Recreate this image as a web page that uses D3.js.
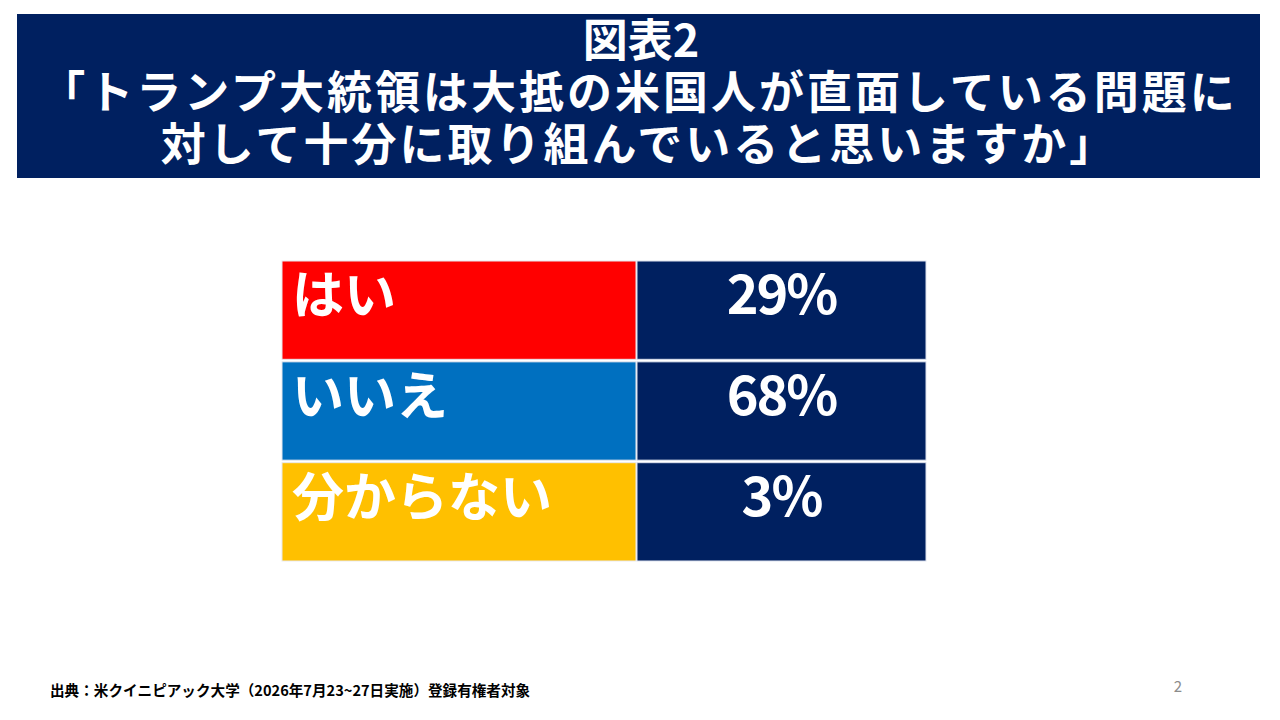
<!DOCTYPE html>
<html>
<head>
<meta charset="utf-8">
<script src="https://cdn.jsdelivr.net/npm/d3@7"></script>
<style>
  body { margin: 0; background: #fff; }
  svg { display: block; }
</style>
</head>
<body>
<div id="chart"></div>
<script>
// data
const titleLines = [
  '図表2',
  '「トランプ大統領は大抵の米国人が直面している問題に',
  '対して十分に取り組んでいると思いますか」'
]
const answers = ['はい', 'いいえ', '分からない']
const shares = [29, 68, 3]
const source = '出典：米クイニピアック大学（2026年7月23~27日実施）登録有権者対象'
const pageNo = '2'

const width = 1280
const height = 720
const navy = '#002060'
const rowColors = ['#ff0000', '#0070c0', '#ffc000']
const font = '"Noto Sans CJK JP", "Noto Sans", sans-serif'

const svg = d3.select('#chart')
  .append('svg')
  .attr('width', width)
  .attr('height', height)

// title box
svg.append('rect')
  .attr('x', 17)
  .attr('y', 14)
  .attr('width', 1243)
  .attr('height', 164)
  .attr('fill', navy)

// one text block, three lines
svg.append('text')
  .attr('text-anchor', 'middle')
  .style('font-family', font)
  .style('font-weight', 'bold')
  .style('font-size', '45px')
  .style('fill', '#fff')
  .selectAll('tspan')
  .data(titleLines)
  .join('tspan')
  .attr('x', (d, i) => i === 0 ? 641 : 639)
  .attr('y', (d, i) => 57 + i * 52)
  .style('letter-spacing', (d, i) => i === 0 ? '0px' : '3px')
  .text(d => d)

// table: rows by band scale, two columns
const y = d3.scaleBand()
  .domain(answers)
  .range([261, 561])
  .paddingInner(0.025)

const x = d3.scaleOrdinal()
  .domain(['label', 'value'])
  .range([282, 637])

const colW = { label: 354, value: 289 }

const rows = svg.append('g')
  .selectAll('g')
  .data(answers.map((a, i) => ({ answer: a, share: shares[i], color: rowColors[i] })))
  .join('g')
  .attr('transform', d => `translate(0,${y(d.answer)})`)

rows.append('rect')
  .attr('x', x('label'))
  .attr('width', colW.label)
  .attr('height', y.bandwidth())
  .attr('fill', d => d.color)
  .attr('stroke', '#e8e8ee')
  .attr('stroke-width', 1)

rows.append('rect')
  .attr('x', x('value'))
  .attr('width', colW.value)
  .attr('height', y.bandwidth())
  .attr('fill', navy)
  .attr('stroke', '#dde2ee')
  .attr('stroke-width', 1)

rows.append('text')
  .attr('x', x('label') + 10)
  .attr('y', 53)
  .style('font-family', font)
  .style('font-weight', 'bold')
  .style('font-size', '52px')
  .style('fill', '#fff')
  .text(d => d.answer)

rows.append('text')
  .attr('x', x('value') + colW.value / 2)
  .attr('y', 53)
  .attr('text-anchor', 'middle')
  .style('font-family', font)
  .style('font-weight', 'bold')
  .style('font-size', '54px')
  .style('letter-spacing', '-2px')
  .style('fill', '#fff')
  .text(d => d.share + '%')

// footer
svg.append('text')
  .attr('x', 50)
  .attr('y', 696)
  .style('font-family', font)
  .style('font-weight', 'bold')
  .style('font-size', '14.6px')
  .style('fill', '#000')
  .text(source)

svg.append('text')
  .attr('x', 1178)
  .attr('y', 692)
  .attr('text-anchor', 'middle')
  .style('font-family', font)
  .style('font-size', '15px')
  .style('fill', '#8c8c8c')
  .text(pageNo)
</script>
</body>
</html>
